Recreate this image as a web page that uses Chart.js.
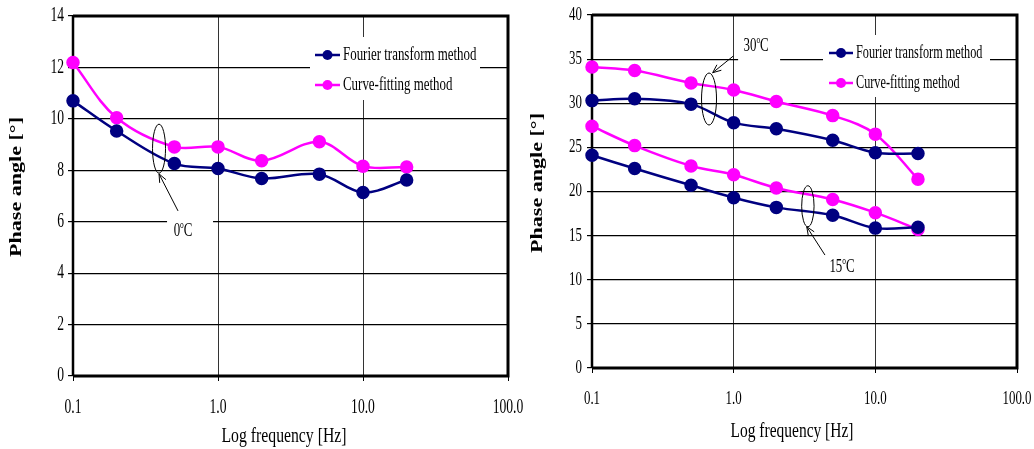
<!DOCTYPE html>
<html>
<head>
<meta charset="utf-8">
<script src="https://cdn.jsdelivr.net/npm/chart.js@4.4.1/dist/chart.umd.min.js"></script>
<style>
  html, body { margin: 0; padding: 0; background: #fff; }
  #wrap { position: relative; width: 1034px; height: 449px; overflow: hidden; }
  canvas { position: absolute; top: 0; }
  #left { left: 0; }
  #right { left: 520px; }
</style>
</head>
<body>
<div id="wrap">
  <canvas id="left" width="540" height="449"></canvas>
  <canvas id="right" width="514" height="449"></canvas>
</div>
<script>
// =======================
//  DATOS
// =======================
const freq = [0.1, 0.2, 0.5, 1, 2, 5, 10, 20];
const fourier0C = [10.7, 9.53, 8.26, 8.07, 7.68, 7.85, 7.14, 7.62];
const curve0C = [12.19, 10.04, 8.91, 8.91, 8.37, 9.11, 8.16, 8.13];
const fourier30C = [30.3, 30.5, 29.9, 27.8, 27.1, 25.8, 24.4, 24.3];
const curve30C = [34.1, 33.7, 32.3, 31.5, 30.2, 28.6, 26.5, 21.4];
const fourier15C = [24.1, 22.6, 20.7, 19.3, 18.2, 17.3, 15.85, 15.95];
const curve15C = [27.4, 25.2, 22.9, 21.9, 20.4, 19.1, 17.6, 15.7];
const xTicks = [0.1, 1, 10, 100];
const yTicksLeft = [0, 2, 4, 6, 8, 10, 12, 14];
const yTicksRight = [0, 5, 10, 15, 20, 25, 30, 35, 40];
const seriesNames = ["Fourier transform method", "Curve-fitting method"];
const xTitle = "Log frequency [Hz]";
const yTitle = "Phase angle [\u00b0]";

const NAVY = "#000080";
const MAGENTA = "#ff00ff";
const FONT = '"Liberation Serif", "Times New Roman", serif';
const TEXT_SX = 0.68;

// =======================
//  AUXILIARES DE TEXTO
// =======================
function drawText(ctx, str, x, y, o) {
  ctx.save();
  ctx.font = (o.bold ? "bold " : "") + o.size + "px " + FONT;
  ctx.fillStyle = "#000";
  ctx.textBaseline = "middle";
  const w = ctx.measureText(str).width;
  const sx = o.width ? o.width / w : (o.sx || TEXT_SX);
  ctx.translate(x, y);
  if (o.rot) ctx.rotate(o.rot);
  ctx.scale(sx, 1);
  ctx.textAlign = o.align || "center";
  ctx.fillText(str, 0, 0);
  ctx.restore();
}

// "0oC" con la o en superindice
function drawTemp(ctx, num, cx, cy, size) {
  const big = size + "px " + FONT;
  const small = Math.round(size * 0.6) + "px " + FONT;
  ctx.save();
  ctx.fillStyle = "#000";
  ctx.textAlign = "left";
  ctx.textBaseline = "alphabetic";
  ctx.font = big;
  const w1 = ctx.measureText(num).width, w3 = ctx.measureText("C").width;
  ctx.font = small;
  const w2 = ctx.measureText("o").width;
  const total = (w1 + w2 + w3) * TEXT_SX;
  ctx.translate(cx - total / 2, cy + size * 0.33);
  ctx.scale(TEXT_SX, 1);
  ctx.font = big; ctx.fillText(num, 0, 0);
  ctx.font = small; ctx.fillText("o", w1, -size * 0.42);
  ctx.font = big; ctx.fillText("C", w1 + w2, 0);
  ctx.restore();
}

function arrow(ctx, x1, y1, x2, y2) {
  const a = Math.atan2(y2 - y1, x2 - x1), h = 9;
  ctx.beginPath();
  ctx.moveTo(x1, y1); ctx.lineTo(x2, y2);
  ctx.moveTo(x2 - h * Math.cos(a - 0.4), y2 - h * Math.sin(a - 0.4));
  ctx.lineTo(x2, y2);
  ctx.lineTo(x2 - h * Math.cos(a + 0.4), y2 - h * Math.sin(a + 0.4));
  ctx.stroke();
}

// =======================
//  PLUGIN DE DECORACION
// =======================
function overlay(p) {
  return {
    id: "overlay",
    beforeDatasetsDraw(chart) {
      const ctx = chart.ctx, a = chart.chartArea, xs = chart.scales.x, ys = chart.scales.y;
      ctx.save();
      ctx.fillStyle = "#fff";
      const L = p.legend;
      ctx.fillRect(L.x, L.y, L.w, L.h);
      p.notes.forEach(n => {
        const b = n.box;
        ctx.fillRect(xs.getPixelForValue(n.label[0]) + b[0], ys.getPixelForValue(n.label[1]) + b[1], b[2], b[3]);
      });
      // borde del area de trazado
      ctx.strokeStyle = "#000";
      ctx.lineWidth = 3;
      ctx.beginPath();
      ctx.moveTo(a.left, a.top); ctx.lineTo(a.right, a.top);
      ctx.lineTo(a.right, a.bottom); ctx.lineTo(a.left, a.bottom);
      ctx.stroke();
      ctx.lineWidth = 2.5;
      ctx.beginPath();
      ctx.moveTo(a.left, a.top); ctx.lineTo(a.left, a.bottom);
      ctx.stroke();
      ctx.restore();
    },
    afterDraw(chart) {
      const ctx = chart.ctx, a = chart.chartArea, xs = chart.scales.x, ys = chart.scales.y;
      // etiquetas de ejes
      xs.ticks.forEach(t => {
        drawText(ctx, t.value.toFixed(1), xs.getPixelForValue(t.value), a.bottom + p.xLabelGap, { size: p.tickSize });
      });
      ys.ticks.forEach(t => {
        drawText(ctx, String(t.value), a.left - p.yLabelGap, ys.getPixelForValue(t.value), { size: p.tickSize, align: "right" });
      });
      drawText(ctx, xTitle, p.xTitle[0], p.xTitle[1], { size: 20, width: p.xTitle[2] });
      drawText(ctx, yTitle, p.yTitle[0], p.yTitle[1], { size: 16, bold: true, rot: -Math.PI / 2, width: p.yTitle[2] });

      // leyenda
      const L = p.legend;
      [NAVY, MAGENTA].forEach((c, i) => {
        const y = L.rows[i];
        ctx.save();
        ctx.strokeStyle = c; ctx.fillStyle = c; ctx.lineWidth = 2.5;
        ctx.beginPath(); ctx.moveTo(L.line[0], y); ctx.lineTo(L.line[1], y); ctx.stroke();
        ctx.beginPath(); ctx.arc((L.line[0] + L.line[1]) / 2, y, 5, 0, Math.PI * 2); ctx.fill();
        ctx.restore();
        drawText(ctx, seriesNames[i], L.text, y, { size: L.size, align: "left" });
      });

      // anotaciones: elipse, flecha y temperatura
      ctx.save();
      ctx.strokeStyle = "#000";
      ctx.lineWidth = 1;
      p.notes.forEach(n => {
        const ex = xs.getPixelForValue(n.ellipse[0]), ey = ys.getPixelForValue(n.ellipse[1]);
        ctx.beginPath();
        ctx.ellipse(ex, ey, n.ellipse[2], n.ellipse[3], 0, 0, Math.PI * 2);
        ctx.stroke();
        arrow(ctx, xs.getPixelForValue(n.arrow[0]), ys.getPixelForValue(n.arrow[1]),
                   xs.getPixelForValue(n.arrow[2]), ys.getPixelForValue(n.arrow[3]));
        drawTemp(ctx, n.text, xs.getPixelForValue(n.label[0]), ys.getPixelForValue(n.label[1]), 19);
      });
      ctx.restore();
    }
  };
}

// =======================
//  GRAFICO
// =======================
function buildChart(id, p) {
  return new Chart(document.getElementById(id), {
    type: "line",
    data: {
      datasets: p.series.map(s => ({
        data: freq.map((f, i) => ({ x: f, y: s.values[i] })),
        borderColor: s.color,
        backgroundColor: s.color,
        pointBackgroundColor: s.color,
        pointBorderColor: s.color,
        borderWidth: 2.5,
        pointRadius: 5.5,
        pointHoverRadius: 5.5,
        tension: 0.35,
        fill: false,
        clip: false
      }))
    },
    options: {
      responsive: false,
      animation: false,
      devicePixelRatio: 1,
      layout: { padding: p.padding },
      plugins: { legend: { display: false }, tooltip: { enabled: false } },
      scales: {
        x: {
          type: "logarithmic", min: 0.1, max: 100,
          afterBuildTicks: s => { s.ticks = xTicks.map(v => ({ value: v })); },
          afterFit: s => { s.height = p.xAxisHeight; },
          ticks: { display: false },
          grid: { color: "#333", lineWidth: 1, drawTicks: true, tickLength: 5, tickColor: "#000" },
          border: { display: false }
        },
        y: {
          min: 0, max: p.yMax,
          afterBuildTicks: s => { s.ticks = p.yTicks.map(v => ({ value: v })); },
          afterFit: s => { s.width = p.yAxisWidth; },
          ticks: { display: false },
          grid: { color: "#000", lineWidth: 1.2, drawTicks: true, tickLength: 5, tickColor: "#000" },
          border: { display: false }
        }
      }
    },
    plugins: [overlay(p)]
  });
}

document.addEventListener("DOMContentLoaded", () => {
  buildChart("left", {
    series: [
      { values: fourier0C, color: NAVY },
      { values: curve0C, color: MAGENTA }
    ],
    yMax: 14, yTicks: yTicksLeft,
    padding: { top: 16, right: 32, left: 0, bottom: 0 },
    yAxisWidth: 73, xAxisHeight: 73,
    tickSize: 20, xLabelGap: 32, yLabelGap: 9,
    xTitle: [284, 437, 125], yTitle: [17, 187, 140],
    legend: { x: 310, y: 37, w: 170, h: 63, rows: [55, 85], line: [315, 340], text: 343, size: 19 },
    notes: [
      { text: "0", ellipse: [0.392, 8.84, 6.5, 24.5], arrow: [0.53, 6.42, 0.392, 7.86], label: [0.574, 5.68], box: [-16, -16, 46, 28] }
    ]
  });

  buildChart("right", {
    series: [
      { values: fourier30C, color: NAVY },
      { values: curve30C, color: MAGENTA },
      { values: fourier15C, color: NAVY },
      { values: curve15C, color: MAGENTA }
    ],
    yMax: 40, yTicks: yTicksRight,
    padding: { top: 15, right: 17, left: 0, bottom: 0 },
    yAxisWidth: 72, xAxisHeight: 81,
    tickSize: 19, xLabelGap: 31, yLabelGap: 10,
    xTitle: [272, 432, 123], yTitle: [18, 183, 140],
    legend: { x: 303, y: 35, w: 167, h: 62, rows: [53, 83], line: [309, 333], text: 336, size: 18 },
    notes: [
      { text: "30", ellipse: [0.67, 30.48, 7.5, 26], arrow: [0.994, 35.35, 0.711, 33.46], label: [1.44, 36.6], box: [-18, -15, 42, 34] },
      { text: "15", ellipse: [3.34, 18.33, 6.2, 20.5], arrow: [4.41, 12.8, 3.28, 16.01], label: [5.82, 11.56], box: [-17, -14, 42, 24] }
    ]
  });
});
</script>
</body>
</html>
